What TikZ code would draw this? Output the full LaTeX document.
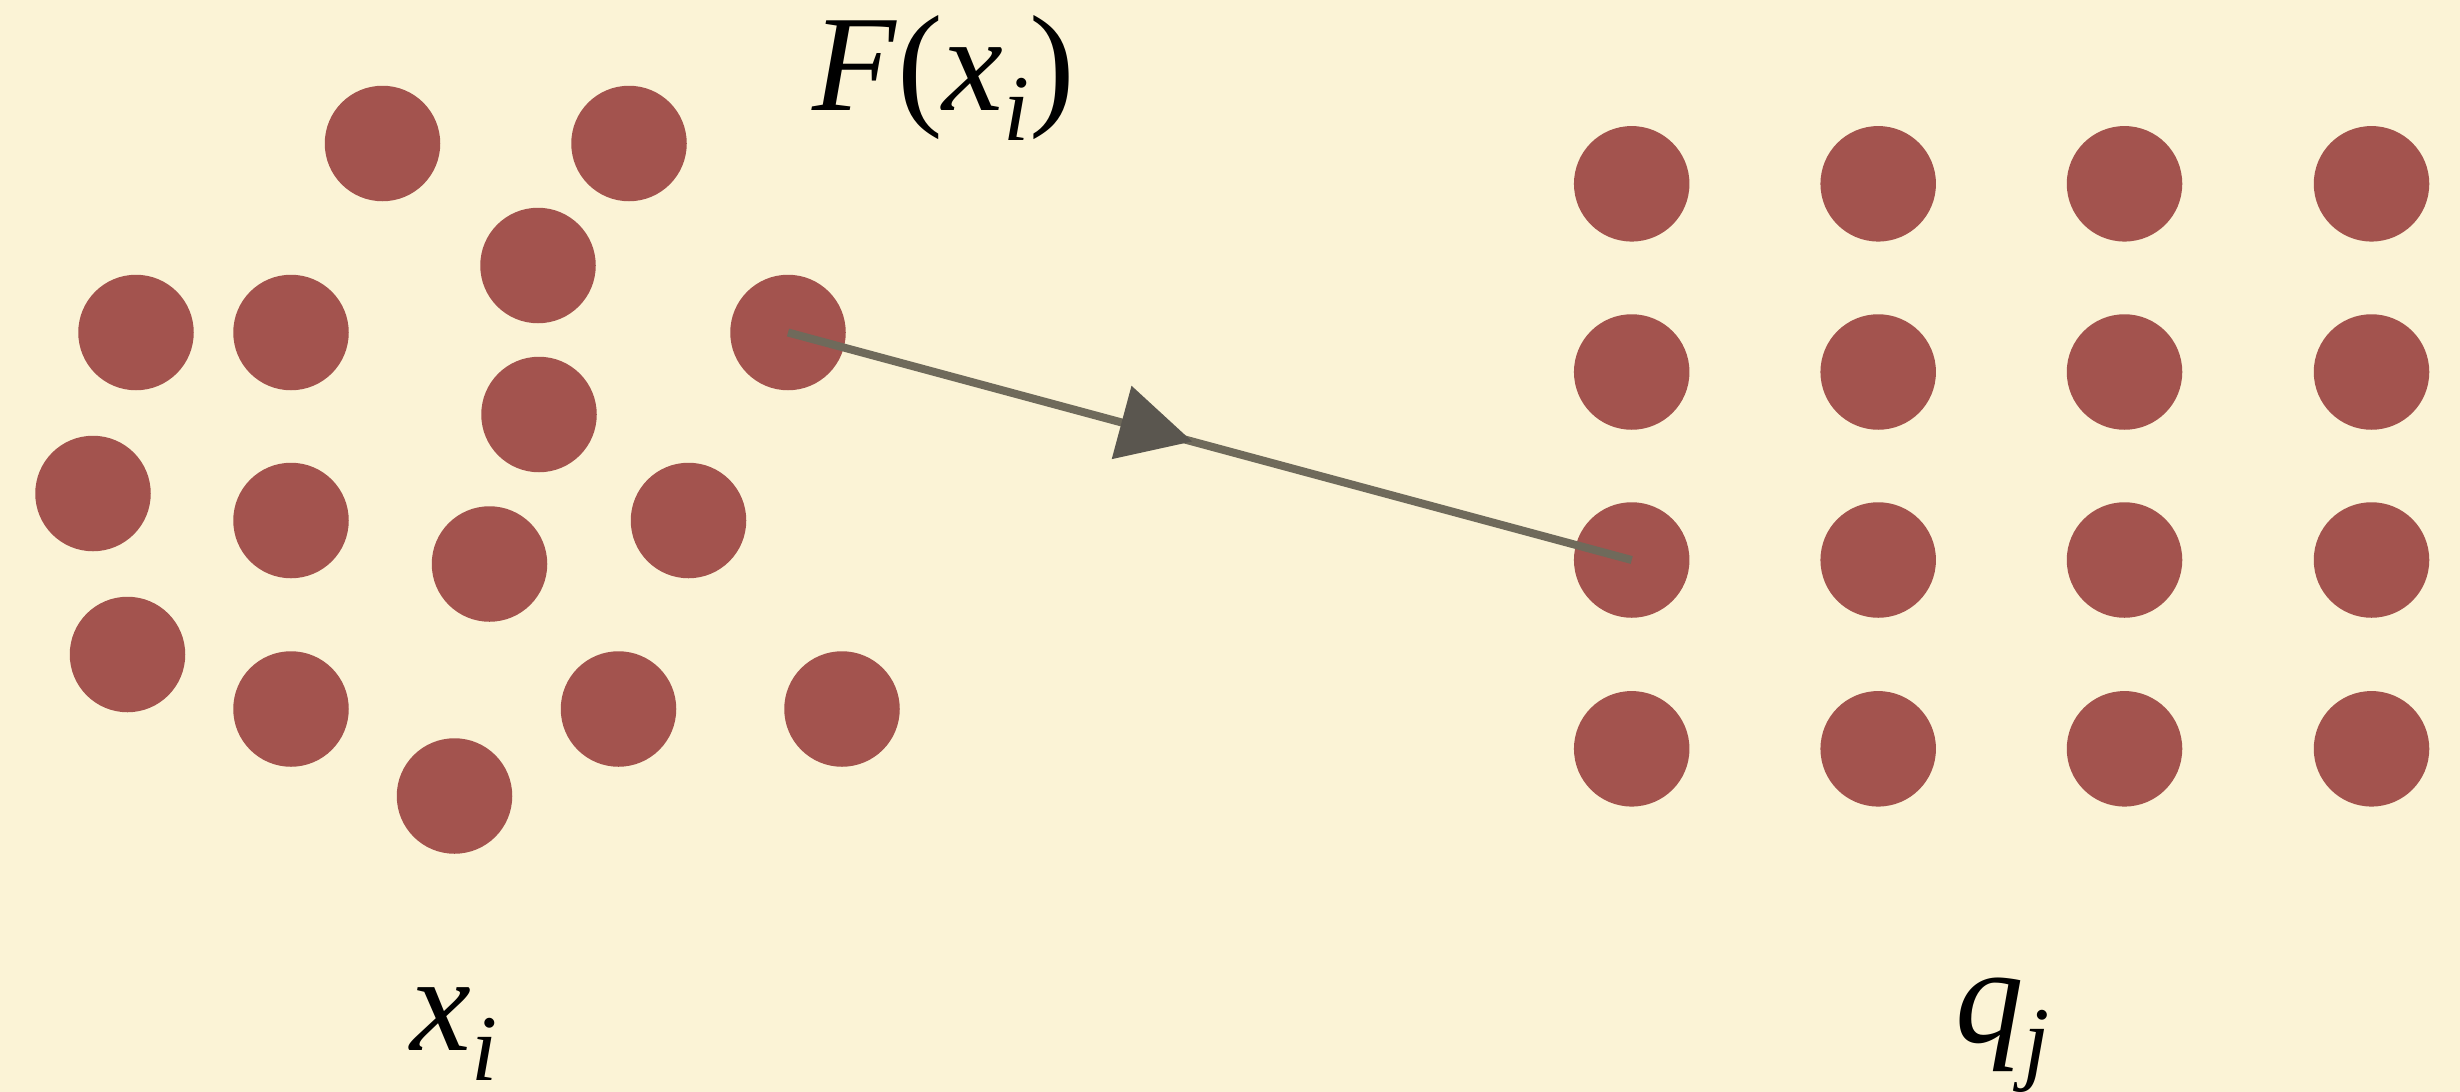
\documentclass[tikz,border=0pt]{standalone}
\usepackage{fontspec}
\setmainfont{Liberation Serif}
\usetikzlibrary{arrows.meta,decorations.markings}
\definecolor{paper}{HTML}{FBF3D6}
\definecolor{dotred}{HTML}{A3534E}
\definecolor{linegray}{HTML}{6F6A5B}
\definecolor{headgray}{HTML}{5A564F}
\newcommand{\subtxt}[1]{\raisebox{-30pt}{\fontsize{94}{94}\selectfont\textit{#1}}}
\begin{document}
\begin{tikzpicture}[x=1pt,y=-1pt,
  dot/.style={circle,fill=dotred,inner sep=0pt,minimum size=115.5pt},
  lbl/.style={font=\fontsize{137}{137}\selectfont, inner sep=0pt, anchor=base west, text=black},
  maparrow/.style={draw=linegray, line width=8pt, postaction={decorate},
    decoration={markings, mark=at position 0.479 with {\arrow{Triangle[length=73pt,width=76pt,line width=0pt,fill=headgray,color=headgray]}}}}]
\fill[paper] (0,0) rectangle (2460,1092);
\useasboundingbox (0,0) rectangle (2460,1092);
% left cluster
\node[dot] (L1) at (382.5,143.5) {};
\node[dot] (L2) at (629,143.5) {};
\node[dot] (L3) at (538,265.5) {};
\node[dot] (L4) at (136,332.5) {};
\node[dot] (L5) at (291,332.5) {};
\node[dot] (L6) at (788,332.5) {};
\node[dot] (L7) at (539,414.5) {};
\node[dot] (L8) at (93,493.5) {};
\node[dot] (L9) at (291,520.5) {};
\node[dot] (L10) at (688.5,520.5) {};
\node[dot] (L11) at (489.5,564) {};
\node[dot] (L12) at (127.5,654.5) {};
\node[dot] (L13) at (291,709) {};
\node[dot] (L14) at (618.5,709) {};
\node[dot] (L15) at (842,709) {};
\node[dot] (L16) at (454.5,796) {};
% right grid
\foreach \c/\x in {1/1631.7,2/1878.2,3/2124.5,4/2371.5}{
  \foreach \r/\y in {1/183.8,2/372,3/560,4/748.8}{
    \node[dot] (Q\r\c) at (\x,\y) {};
  }
}
% mapping arrow
\draw[maparrow] (L6.center) -- (Q31.center);
% labels
\node[lbl] (Fx) at (812,110) {\textit{F}(\textit{x}\subtxt{i})};
\node[lbl] (xi) at (410,1050) {\textit{x}\subtxt{i}};
\node[lbl] (qj) at (1955,1042) {\textit{q}\subtxt{j}};
\end{tikzpicture}
\end{document}
